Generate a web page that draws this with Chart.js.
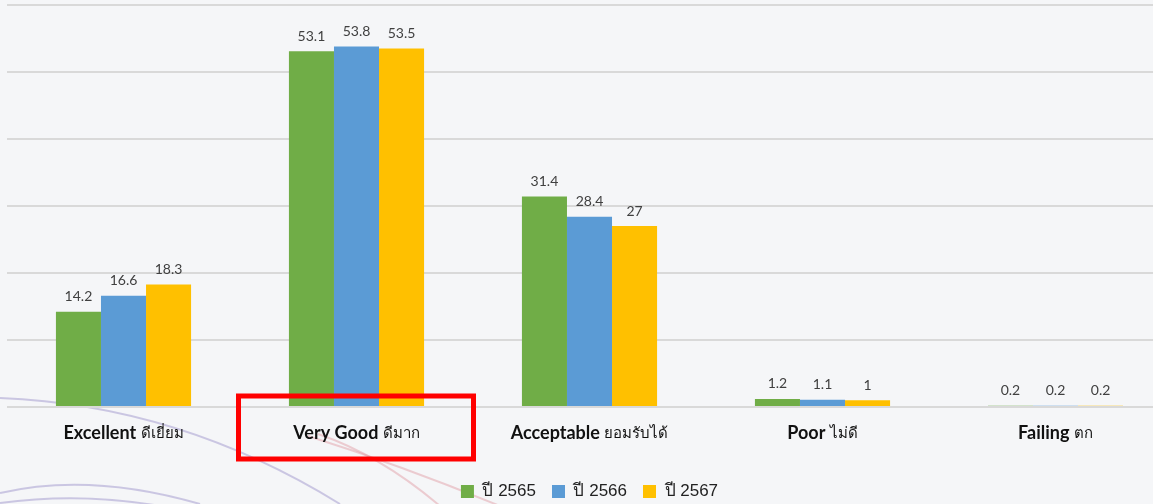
<!DOCTYPE html>
<html>
<head>
<meta charset="utf-8">
<script src="https://cdn.jsdelivr.net/npm/chart.js@4.4.1/dist/chart.umd.min.js"></script>
<style>
  html, body { margin: 0; padding: 0; background: #f5f6f8; overflow: hidden; }
  #wrap { width: 1180px; height: 504px; position: relative; }
</style>
</head>
<body>
<div id="wrap"><canvas id="myChart" width="1180" height="504"></canvas></div>
<script>
// Chart data
const catEn = ['Excellent', 'Very Good', 'Acceptable', 'Poor', 'Failing'];
const catTh = ['ดีเยี่ยม', 'ดีมาก', 'ยอมรับได้', 'ไม่ดี', 'ตก'];
const seriesNames = ['ปี 2565', 'ปี 2566', 'ปี 2567'];
const y2565 = [14.2, 53.1, 31.4, 1.2, 0.2];
const y2566 = [16.6, 53.8, 28.4, 1.1, 0.2];
const y2567 = [18.3, 53.5, 27, 1, 0.2];
const colors = ['#70ad47', '#5b9bd5', '#ffc000'];

// background swooshes, value labels, category labels, highlight box
const decor = {
    id: 'decor',
    afterLayout(chart) {
        // nudge legend a little lower, like the original
        chart.legend.top += 6;
        chart.legend.bottom += 6;
    },
    beforeDraw(chart) {
        const c = chart.ctx;
        c.save();
        c.fillStyle = '#f5f6f8';
        c.fillRect(0, 0, chart.width, chart.height);
        c.lineWidth = 2;
        c.strokeStyle = 'rgba(150,140,200,0.45)';
        c.beginPath();
        c.moveTo(0, 398);
        c.quadraticCurveTo(180, 405, 340, 504);
        c.stroke();
        c.beginPath();
        c.moveTo(0, 493);
        c.quadraticCurveTo(90, 472, 200, 504);
        c.stroke();
        c.beginPath();
        c.moveTo(0, 503);
        c.quadraticCurveTo(80, 492, 160, 506);
        c.stroke();
        c.strokeStyle = 'rgba(225,150,160,0.45)';
        c.beginPath();
        c.moveTo(308, 436);
        c.quadraticCurveTo(400, 465, 500, 506);
        c.stroke();
        c.beginPath();
        c.moveTo(318, 434);
        c.quadraticCurveTo(380, 455, 440, 506);
        c.stroke();
        c.restore();
    },
    afterDatasetsDraw(chart) {
        const c = chart.ctx;
        c.save();
        c.font = '14px Lato, "Noto Sans", sans-serif';
        c.fillStyle = '#404040';
        c.textAlign = 'center';
        c.textBaseline = 'bottom';
        chart.data.datasets.forEach((ds, i) => {
            chart.getDatasetMeta(i).data.forEach((bar, j) => {
                c.fillText(String(ds.data[j]), bar.x, bar.y - 8);
            });
        });
        // category labels: bold English + regular Thai
        const x = chart.scales.x;
        c.textAlign = 'left';
        c.textBaseline = 'middle';
        c.fillStyle = '#111';
        catEn.forEach((en, i) => {
            const bold = 'bold 18px Lato, "Noto Sans", sans-serif';
            const reg = '15px "Noto Sans", sans-serif';
            c.font = bold;
            const w1 = c.measureText(en + ' ').width;
            c.font = reg;
            const w2 = c.measureText(catTh[i]).width;
            let px = x.getPixelForValue(i) - (w1 + w2) / 2;
            c.font = bold;
            c.fillText(en + ' ', px, 433);
            c.font = reg;
            c.fillText(catTh[i], px + w1, 434);
        });
        // red highlight box
        c.strokeStyle = '#ff0000';
        c.lineWidth = 5;
        c.strokeRect(238.5, 396, 235, 63);
        c.restore();
    }
};

const ctx = document.getElementById('myChart').getContext('2d');
const myChart = new Chart(ctx, {
    type: 'bar',
    data: {
        labels: catEn,
        datasets: [
            { label: seriesNames[0], data: y2565, backgroundColor: colors[0] },
            { label: seriesNames[1], data: y2566, backgroundColor: colors[1] },
            { label: seriesNames[2], data: y2567, backgroundColor: colors[2] }
        ]
    },
    options: {
        responsive: false,
        animation: false,
        layout: { padding: { top: 5, left: 7, right: 8, bottom: 0 } },
        datasets: { bar: { categoryPercentage: 0.58, barPercentage: 1 } },
        plugins: {
            tooltip: { enabled: false },
            legend: {
                position: 'bottom',
                labels: {
                    boxWidth: 13,
                    boxHeight: 13,
                    padding: 16,
                    color: '#222',
                    font: { family: '"Liberation Sans", Arial, sans-serif', size: 17 }
                }
            }
        },
        scales: {
            x: {
                grid: { display: false },
                border: { display: false },
                ticks: { color: 'rgba(0,0,0,0)' },
                afterFit(scale) { scale.height = 54; }
            },
            y: {
                min: 0,
                max: 60,
                ticks: { display: false, stepSize: 10 },
                grid: { color: '#d9d9d9', lineWidth: 2, drawTicks: false },
                border: { display: false }
            }
        }
    },
    plugins: [decor]
});
</script>
</body>
</html>
